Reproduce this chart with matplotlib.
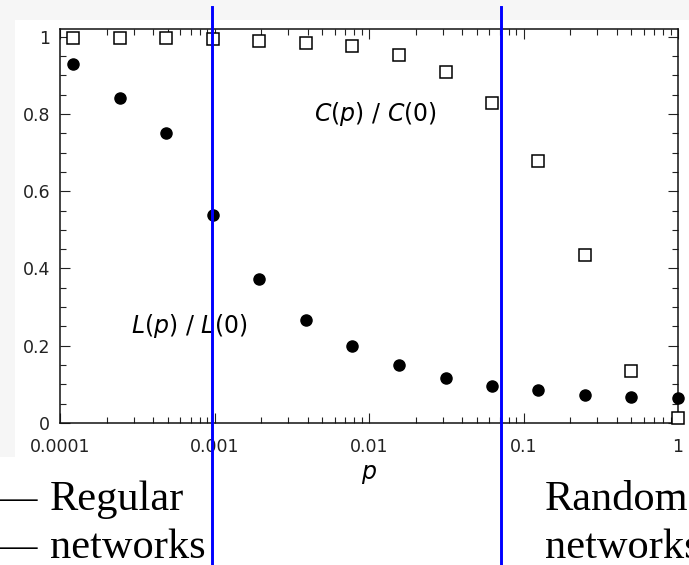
import matplotlib.pyplot as plt
from matplotlib.ticker import FixedLocator, MultipleLocator, LogLocator, NullFormatter
from matplotlib.patches import Rectangle

# rewiring probability p = 2^-13 ... 2^0
p = [0.000122, 0.000244, 0.000488, 0.000977, 0.00195, 0.00391, 0.00781,
     0.0156, 0.0313, 0.0625, 0.125, 0.25, 0.5, 1.0]
C_ratio = [0.997, 0.997, 0.996, 0.995, 0.990, 0.985, 0.975,
           0.952, 0.909, 0.828, 0.678, 0.435, 0.135, 0.013]
L_ratio = [0.929, 0.841, 0.750, 0.538, 0.373, 0.266, 0.199,
           0.150, 0.116, 0.096, 0.085, 0.072, 0.067, 0.065]

x_ticks = [0.0001, 0.001, 0.01, 0.1, 1]
x_labels = ["0.0001", "0.001", "0.01", "0.1", "1"]
y_ticks = [0, 0.2, 0.4, 0.6, 0.8, 1]
y_labels = ["0", "0.2", "0.4", "0.6", "0.8", "1"]

# regime boundaries marked in blue
boundaries = [0.000967, 0.0713]

plt.rcParams['mathtext.fontset'] = 'dejavusans'

W, H = 689, 565
fig = plt.figure(figsize=(W / 100, H / 100), dpi=100)
fig.patch.set_facecolor("white")

# pasted-image look: light grey margin at top/left
fig.add_artist(Rectangle((0, 1 - 457 / H), 1, 457 / H, transform=fig.transFigure,
                         facecolor="#f6f6f6", edgecolor="none", zorder=-3))
fig.add_artist(Rectangle((15 / W, 1 - 457 / H), 1 - 15 / W, (457 - 20) / H,
                         transform=fig.transFigure, facecolor="white",
                         edgecolor="none", zorder=-2))

ax = fig.add_axes([60 / W, 1 - 423 / H, (678 - 60) / W, (423 - 29) / H])
ax.set_facecolor("white")

ax.plot(p, C_ratio, linestyle="none", marker="s", markersize=8.5,
        markerfacecolor="white", markeredgecolor="black", markeredgewidth=1.1,
        clip_on=False, zorder=3)
ax.plot(p, L_ratio, linestyle="none", marker="o", markersize=8,
        color="black", clip_on=False, zorder=3)

ax.set_xscale("log")
ax.set_xlim(1e-4, 1)
ax.set_ylim(0, 1.02)

ax.xaxis.set_major_locator(FixedLocator(x_ticks))
ax.set_xticklabels(x_labels)
ax.xaxis.set_minor_locator(LogLocator(base=10, subs=range(2, 10)))
ax.xaxis.set_minor_formatter(NullFormatter())
ax.yaxis.set_major_locator(FixedLocator(y_ticks))
ax.set_yticklabels(y_labels)
ax.yaxis.set_minor_locator(MultipleLocator(0.05))

ax.tick_params(which="both", direction="in", top=True, right=True,
               width=0.8, color="#222222")
ax.tick_params(which="major", length=7)
ax.tick_params(which="minor", length=4.5)
ax.tick_params(axis="x", which="major", pad=11, labelsize=12.5, labelcolor="#222222")
ax.tick_params(axis="y", which="major", pad=7, labelsize=12.5, labelcolor="#222222")
for s in ax.spines.values():
    s.set_linewidth(1.1)
    s.set_color("#111111")

ax.set_xlabel("$p$", fontsize=17, labelpad=4)

ax.text(0.000125 * 35, 0.80, "$C(p)\\ /\\ C(0)$", fontsize=17, ha="left", va="center")
ax.text(0.00029, 0.25, "$L(p)\\ /\\ L(0)$", fontsize=17, ha="left", va="center")

for b in boundaries:
    ax.axvline(b, ymin=-0.36, ymax=1.056, clip_on=False, color="#0000ff",
               linewidth=2.1, zorder=5)

serif = dict(family="Liberation Serif", fontsize=30.5, color="black", va="baseline")
fig.text(37 / W, 1 - 510 / H, "\u2014", ha="right", **serif)
fig.text(37 / W, 1 - 558 / H, "\u2014", ha="right", **serif)
fig.text(50 / W, 1 - 510 / H, "Regular", ha="left", **serif)
fig.text(50 / W, 1 - 558 / H, "networks", ha="left", **serif)
fig.text(545 / W, 1 - 510 / H, "Random", ha="left", **serif)
fig.text(545 / W, 1 - 558 / H, "networks", ha="left", **serif)

fig.savefig("out.png", dpi=100)
